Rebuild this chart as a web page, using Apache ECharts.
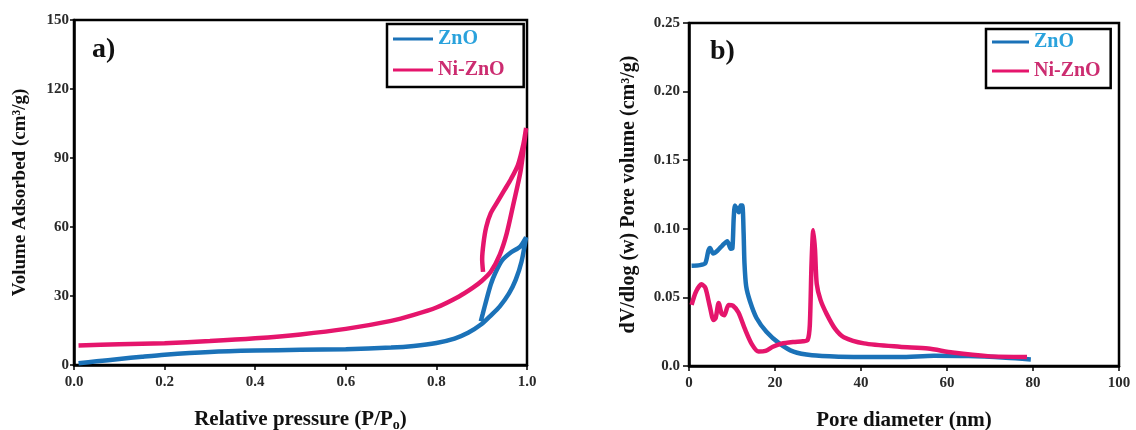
<!DOCTYPE html>
<html>
<head>
<meta charset="utf-8">
<script src="https://cdn.jsdelivr.net/npm/echarts@6.0.0/dist/echarts.min.js"></script>
<style>
  html, body { margin: 0; padding: 0; background: #fff; }
  #chart { width: 1136px; height: 430px; }
</style>
</head>
<body>
<div id="chart"></div>
<script>
// a) N2 isotherms: adsorption branch then desorption branch back to closure
const znoIsotherm = [
  [0.01, 0.8], [0.05, 1.6], [0.1, 2.6], [0.15, 3.6], [0.2, 4.5], [0.3, 5.7], [0.4, 6.3],
  [0.5, 6.6], [0.6, 6.9], [0.7, 7.6], [0.75, 8.3], [0.8, 9.6], [0.84, 11.5], [0.87, 14],
  [0.9, 17.8], [0.92, 21.5], [0.94, 25.5], [0.96, 31], [0.975, 37], [0.988, 45], [0.998, 55.5],
  // desorption
  [0.985, 51.5], [0.965, 49], [0.945, 45.5], [0.93, 40], [0.92, 35], [0.91, 28], [0.902, 22], [0.898, 19]
];
const niZnoIsotherm = [
  [0.01, 8.5], [0.1, 9], [0.2, 9.5], [0.3, 10.4], [0.4, 11.6], [0.5, 13.3], [0.6, 15.7],
  [0.7, 19.2], [0.75, 21.8], [0.8, 25], [0.85, 29.8], [0.88, 33.5], [0.9, 36.5], [0.92, 40.5],
  [0.94, 48], [0.955, 57], [0.97, 70], [0.986, 84.5], [0.998, 103],
  // desorption
  [0.992, 96], [0.98, 87], [0.965, 81], [0.95, 76], [0.935, 71], [0.92, 66], [0.91, 60],
  [0.904, 53], [0.901, 46], [0.903, 40.5]
];

// b) pore size distribution
const znoPsd = [
  [0.6, 0.073], [2.5, 0.0735], [3.8, 0.075], [4.5, 0.084], [4.9, 0.086], [5.6, 0.082], [6.6, 0.084],
  [7.8, 0.088], [8.9, 0.091], [9.7, 0.0855], [10.1, 0.086], [10.4, 0.108], [10.7, 0.117],
  [11.2, 0.114], [11.6, 0.112], [12.0, 0.117], [12.4, 0.117], [12.7, 0.097], [12.9, 0.075],
  [13.3, 0.058], [14.2, 0.047], [15.7, 0.035], [18.0, 0.025], [21.0, 0.0165], [24.3, 0.0105],
  [28.6, 0.0078], [35, 0.0068], [42, 0.0065], [49, 0.0065], [57, 0.0075], [65, 0.0072],
  [73.7, 0.006], [79.5, 0.0048]
];
const niZnoPsd = [
  [0.6, 0.0445], [1.6, 0.054], [2.9, 0.0595], [3.8, 0.057], [4.8, 0.044], [5.7, 0.0335],
  [6.2, 0.035], [6.9, 0.046], [7.6, 0.038], [8.2, 0.037], [9.2, 0.0445], [10.2, 0.044],
  [11.5, 0.039], [13.0, 0.027], [14.6, 0.016], [16.2, 0.0105], [17.8, 0.011], [19.5, 0.014],
  [21.5, 0.0163], [24.3, 0.0175], [26.5, 0.018], [27.6, 0.019], [28.1, 0.03], [28.5, 0.075],
  [28.9, 0.099], [29.3, 0.085], [29.7, 0.06], [30.6, 0.048], [32.0, 0.038], [34.0, 0.027],
  [36.0, 0.021], [40.7, 0.0165], [49, 0.014], [55.6, 0.0127], [61.3, 0.0098], [69.5, 0.0072],
  [78.6, 0.0066]
];

const xTicksA = { min: 0, max: 1, interval: 0.2 };
const yTicksA = { min: 0, max: 150, interval: 30 };
const xTicksB = { min: 0, max: 100, interval: 20 };
const yTicksB = { min: 0, max: 0.25, interval: 0.05 };

const BLUE = '#1b72b8';
const PINK = '#e5156c';
const FONT = 'Liberation Serif';

const chart = echarts.init(document.getElementById('chart'));

const labelStyle = { fontFamily: FONT, fontWeight: 'bold', fontSize: 15, color: '#2a2a2a' };
const nameStyle = {
  fontFamily: FONT, fontWeight: 'bold', fontSize: 21, color: '#111',
  rich: {
    sub: { fontFamily: FONT, fontWeight: 'bold', fontSize: 14, color: '#111', verticalAlign: 'bottom', padding: [10, 0, 0, 0] }
  }
};
const axisBase = {
  axisLine: { show: true, onZero: false, lineStyle: { color: '#000', width: 2.5 } },
  axisTick: { show: true, inside: false, length: 5, lineStyle: { color: '#000', width: 1.5 } },
  splitLine: { show: false },
  axisLabel: Object.assign({ margin: 5 }, labelStyle),
  nameLocation: 'middle',
  nameTextStyle: nameStyle
};
const xLabel = Object.assign({}, labelStyle, { margin: 10 });

function legendOf(left, top, pad, gap, w) {
  return {
    orient: 'vertical', left: left, top: top, padding: pad, itemGap: gap,
    itemWidth: w, itemHeight: 3, icon: 'rect',
    borderColor: '#000', borderWidth: 2.5,
    textStyle: { fontFamily: FONT, fontWeight: 'bold', fontSize: 20 },
    data: [
      { name: 'ZnO', textStyle: { color: '#2aa2dc' } },
      { name: 'Ni-ZnO', textStyle: { color: '#cc2c70' } }
    ]
  };
}

function line(name, data, color, idx) {
  return {
    name: name, type: 'line', data: data, xAxisIndex: idx, yAxisIndex: idx,
    showSymbol: false, symbol: 'none', smooth: 0.25,
    lineStyle: { color: color, width: 4.5 }, itemStyle: { color: color },
    animation: false
  };
}

chart.setOption({
  backgroundColor: '#fff',
  title: [
    { text: 'a)', left: 87, top: 31, textStyle: { fontFamily: FONT, fontWeight: 'bold', fontSize: 28, color: '#111' } },
    { text: 'b)', left: 705, top: 33, textStyle: { fontFamily: FONT, fontWeight: 'bold', fontSize: 28, color: '#111' } }
  ],
  legend: [
    legendOf(387, 24, [5, 19, 7, 6], 11, 40),
    legendOf(986, 29, [3, 10, 7, 6], 9, 37)
  ],
  grid: [
    { left: 74, right: 1136 - 527, top: 20, bottom: 430 - 365, outerBoundsMode: 'none', containLabel: false,
      show: true, borderColor: '#000', borderWidth: 2.5 },
    { left: 689, right: 1136 - 1119, top: 23, bottom: 430 - 366, outerBoundsMode: 'none', containLabel: false,
      show: true, borderColor: '#000', borderWidth: 2.5 }
  ],
  xAxis: [
    Object.assign({}, axisBase, xTicksA, {
      type: 'value', gridIndex: 0,
      name: 'Relative pressure (P/P{sub|o})', nameGap: 43,
      axisLabel: Object.assign({}, xLabel, { formatter: v => v.toFixed(1) })
    }),
    Object.assign({}, axisBase, xTicksB, {
      type: 'value', gridIndex: 1,
      name: 'Pore diameter (nm)', nameGap: 44,
      axisLabel: xLabel
    })
  ],
  yAxis: [
    Object.assign({}, axisBase, yTicksA, {
      type: 'value', gridIndex: 0,
      name: 'Volume Adsorbed (cm³/g)', nameGap: 44,
      axisTick: { show: true, length: 4, lineStyle: { color: '#000', width: 1.5 } },
      axisLabel: Object.assign({}, labelStyle, { margin: 5 }),
      nameTextStyle: Object.assign({}, nameStyle, { fontSize: 19 })
    }),
    Object.assign({}, axisBase, yTicksB, {
      type: 'value', gridIndex: 1,
      name: 'dV/dlog (w) Pore volume (cm³/g)', nameGap: 50,
      axisTick: { show: true, length: 6, lineStyle: { color: '#000', width: 1.5 } },
      nameTextStyle: Object.assign({}, nameStyle, { fontSize: 20 }),
      axisLabel: Object.assign({}, labelStyle, { margin: 9, formatter: v => v === 0 ? '0.0' : v.toFixed(2) })
    })
  ],
  series: [
    line('ZnO', znoIsotherm, BLUE, 0),
    line('Ni-ZnO', niZnoIsotherm, PINK, 0),
    line('ZnO', znoPsd, BLUE, 1),
    line('Ni-ZnO', niZnoPsd, PINK, 1)
  ]
});

window.onresize = () => chart.resize();
</script>
</body>
</html>
